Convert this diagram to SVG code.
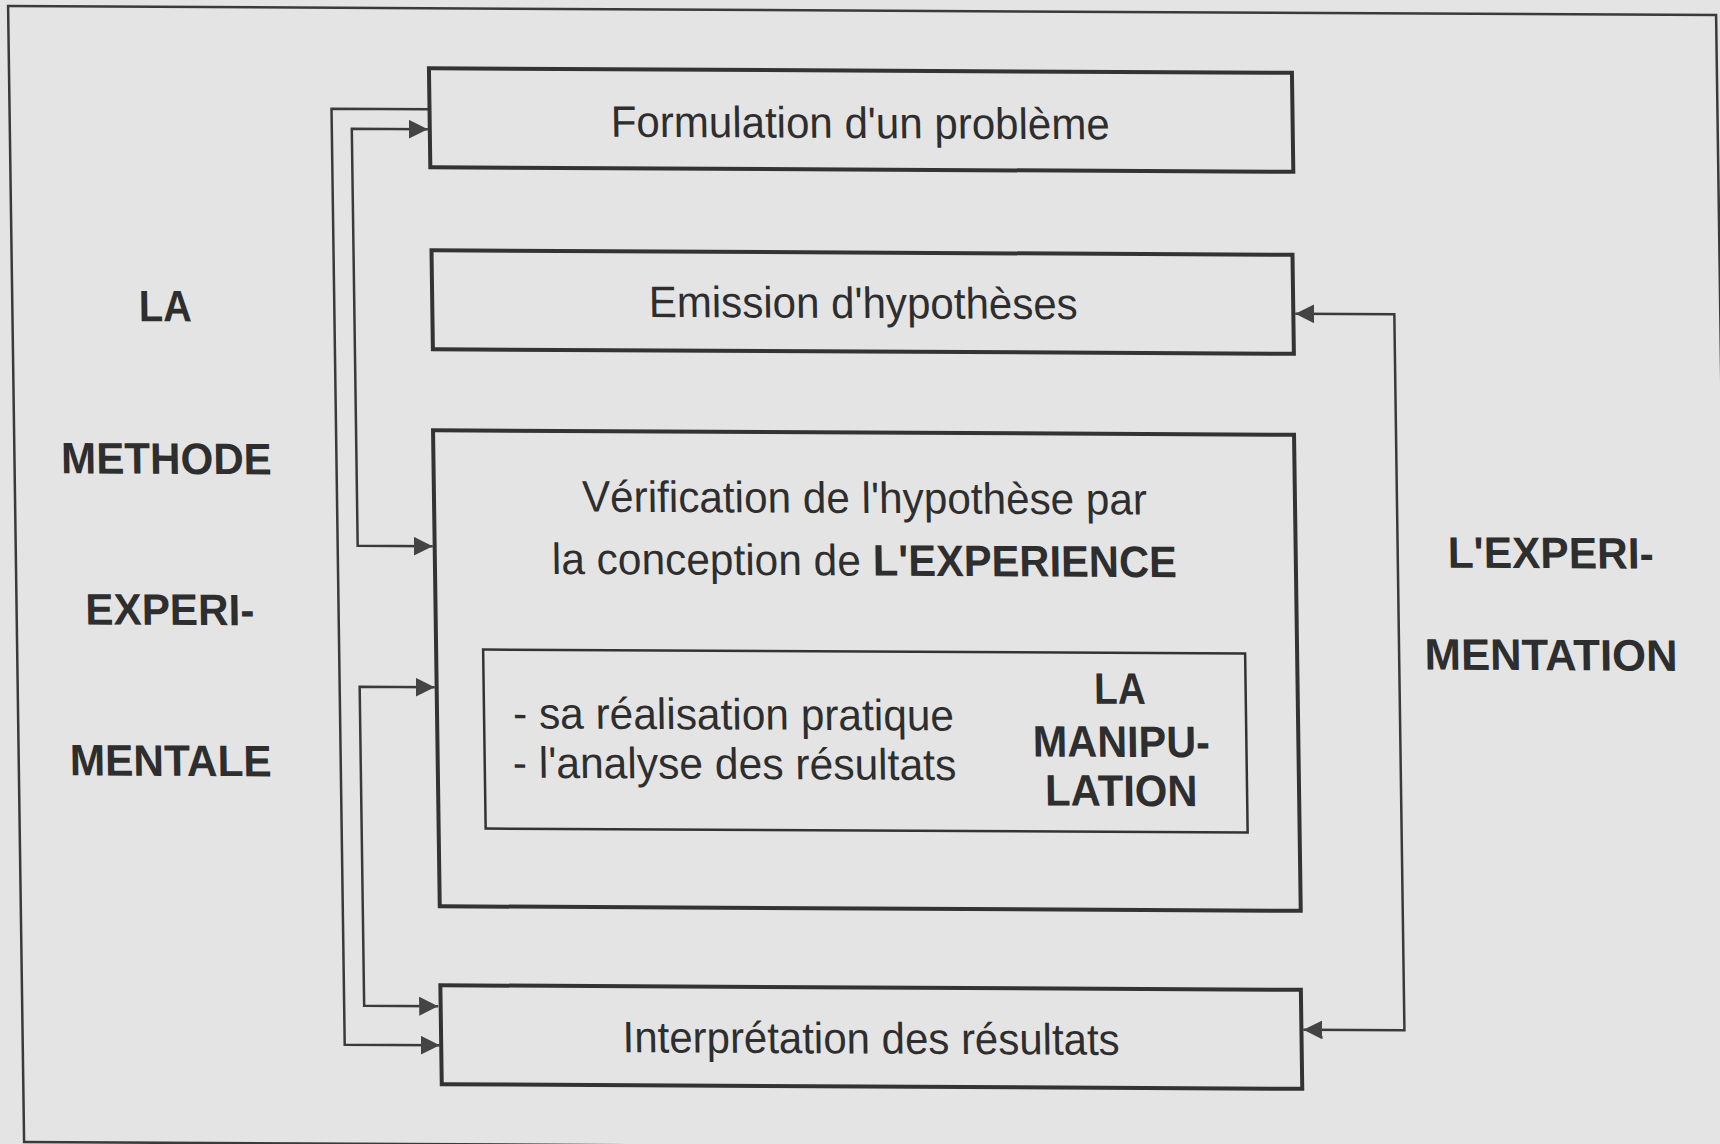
<svg xmlns="http://www.w3.org/2000/svg" width="1720" height="1144" viewBox="0 0 1720 1144">
<style>
.bg{fill:#e4e4e4}
.frame{fill:none;stroke:#3a3a3a;stroke-width:2.5}
.box{fill:none;stroke:#333;stroke-width:4}
.inner{fill:none;stroke:#333;stroke-width:2.5}
.conn{fill:none;stroke:#3a3a3a;stroke-width:2.5}
text{font-family:"Liberation Sans",Arial,sans-serif;font-size:44px;fill:#2e2e2e}
.b{font-weight:bold}
</style>
<defs>
<marker id="arr" viewBox="0 0 10 10" refX="10" refY="5" markerUnits="userSpaceOnUse" markerWidth="19" markerHeight="19" orient="auto-start-reverse">
<path d="M0,0 L10,5 L0,10 z" fill="#444"/>
</marker>
</defs>
<rect class="bg" x="0" y="0" width="1720" height="1144"/>
<g transform="matrix(1,0.0053,0.0141,1,0,0)">
<rect id="frame" class="frame" x="8" y="6" width="1708" height="1136"/>
<g id="connectors">
<path class="conn" d="M428,107 H330 V1043 H425" marker-end="url(#arr)"/>
<path class="conn" d="M426,127 H350 V544 H425" marker-start="url(#arr)" marker-end="url(#arr)"/>
<path class="conn" d="M425,685 H350 V1004 H424" marker-start="url(#arr)" marker-end="url(#arr)"/>
<path class="conn" d="M1291,307 H1390 V1023 H1289" marker-start="url(#arr)" marker-end="url(#arr)"/>
</g>
<g id="n1">
<rect class="box" x="428" y="66" width="863" height="99"/>
<text x="609" y="133.5" textLength="499" lengthAdjust="spacingAndGlyphs">Formulation d'un problème</text>
</g>
<g id="n2">
<rect class="box" x="428" y="248" width="861" height="99"/>
<text x="644.5" y="313.5" textLength="429" lengthAdjust="spacingAndGlyphs">Emission d'hypothèses</text>
</g>
<g id="n3">
<rect class="box" x="427" y="428" width="861" height="476"/>
<text x="575" y="508.5" textLength="565" lengthAdjust="spacingAndGlyphs">Vérification de l'hypothèse par</text>
<text x="544" y="571" textLength="309" lengthAdjust="spacingAndGlyphs">la conception de</text>
<text class="b" x="865" y="571" textLength="304" lengthAdjust="spacingAndGlyphs">L'EXPERIENCE</text>
</g>
<g id="n3b">
<rect class="inner" x="474" y="647" width="762" height="179"/>
<text x="503" y="725.6" textLength="441" lengthAdjust="spacingAndGlyphs">- sa réalisation pratique</text>
<text x="502" y="775" textLength="443.5" lengthAdjust="spacingAndGlyphs">- l'analyse des résultats</text>
<text class="b" x="1084.5" y="698" textLength="51.5" lengthAdjust="spacingAndGlyphs">LA</text>
<text class="b" x="1022.5" y="751" textLength="177" lengthAdjust="spacingAndGlyphs">MANIPU-</text>
<text class="b" x="1034" y="800" textLength="152.5" lengthAdjust="spacingAndGlyphs">LATION</text>
</g>
<g id="n4">
<rect class="box" x="426.5" y="983" width="860.5" height="99"/>
<text x="608" y="1049" textLength="497" lengthAdjust="spacingAndGlyphs">Interprétation des résultats</text>
</g>
<g id="left-label">
<text class="b" x="134.5" y="320.5" textLength="53" lengthAdjust="spacingAndGlyphs">LA</text>
<text class="b" x="54.7" y="473" textLength="210.6" lengthAdjust="spacingAndGlyphs">METHODE</text>
<text class="b" x="76.8" y="624" textLength="169" lengthAdjust="spacingAndGlyphs">EXPERI-</text>
<text class="b" x="59" y="775" textLength="202" lengthAdjust="spacingAndGlyphs">MENTALE</text>
</g>
<g id="right-label">
<text class="b" x="1440" y="560" textLength="206" lengthAdjust="spacingAndGlyphs">L'EXPERI-</text>
<text class="b" x="1415.5" y="662" textLength="253" lengthAdjust="spacingAndGlyphs">MENTATION</text>
</g>
</g>
</svg>
